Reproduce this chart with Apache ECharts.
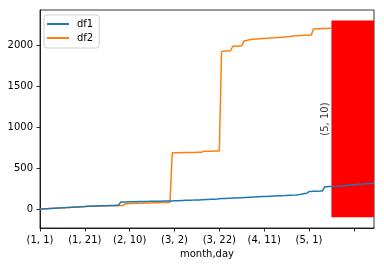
<!DOCTYPE html>
<html>
<head>
<meta charset="utf-8">
<script src="https://cdn.jsdelivr.net/npm/echarts@6/dist/echarts.min.js"></script>
<style>html,body{margin:0;padding:0;background:#fff;}#c{width:384px;height:266px;}</style>
</head>
<body>
<div id="c"></div>
<script>
// Categories: (month, day) from Jan 1 to May 30 (non-leap year)
const monthLengths = [31, 28, 31, 30, 30];
const categories = [];
for (let m = 0; m < monthLengths.length; m++) {
  for (let d = 1; d <= monthLengths[m]; d++) {
    if (categories.length < 150) categories.push('(' + (m + 1) + ', ' + d + ')');
  }
}
const tickLabels = ['(1, 1)', '(1, 21)', '(2, 10)', '(3, 2)', '(3, 22)', '(4, 11)', '(5, 1)', ''];
const yTicks = [0, 500, 1000, 1500, 2000];

const df1 = [
  0,1,3,4,6,7,9,10,12,13,15,16,18,19,21,22,24,25,27,28,30,32,
  33,34,35,36,37,38,38,39,40,41,42,43,44,45,
  84,
  85,86,86,87,88,88,89,90,90,91,92,92,93,93,94,94,95,95,96,97,97,98,98,
  99,100,101,103,104,105,106,107,108,109,110,111,113,114,115,116,118,119,120,121,124,
  127,128,129,130,131,133,134,135,137,138,139,141,142,144,145,146,148,150,
  151,152,153,155,156,157,158,160,161,162,163,165,166,167,169,171,174,
  178,183,188,192,
  212,
  214,215,216,217,218,220,
  270,
  272,273,274,275,276,278,279,281,283,285,287,292,298,300,302,303,305,306,308,310,312,314
];
const df2 = [
  0,1,2,4,5,7,8,10,11,13,14,16,17,19,20,22,23,25,26,28,29,31,32,33,34,35,35,36,37,37,38,38,39,39,40,40,41,41,
  64,
  65,66,67,68,69,70,70,71,72,73,74,74,75,76,77,78,78,79,80,81,
  685,
  686,686,687,687,688,688,689,689,690,690,691,691,692,
  703,704,704,705,705,706,706,707,
  1922,
  1925,1927,1928,1930,
  1985,1986,1987,1988,1990,
  2050,2055,2062,2068,2070,2072,2074,2076,2078,2080,2082,2084,2085,2087,2089,2091,2093,2095,2097,2099,2101,2106,2110,2112,2114,2116,2117,2118,2119,2120,2121,
  2195,2197,2198,2199,2200,2201,2202,2203,2204,
  null,null,null,null,null,null,null,null,null,null,null,null,null,null,null,null,null,null,null
];
const spanStart = '(5, 11)';
const spanEnd = '(5, 30)';
const spanLow = -100;
const spanHigh = 2300;
const annotText = '(5, 10)';
const annotX = '(5, 10)';
const annotY = 1097;

const font = 'DejaVu Sans';
const chart = echarts.init(document.getElementById('c'), null, {renderer: 'canvas'});
chart.setOption({
  animation: false,
  backgroundColor: '#fff',
  grid: {left: 40, right: 10, top: 10, bottom: 38, show: true, borderColor: '#000', borderWidth: 0.8, backgroundColor: 'transparent'},
  legend: {
    orient: 'vertical', left: 44, top: 15,
    padding: [4, 6, 5, 3], itemWidth: 22, itemHeight: 2, itemGap: 4,
    icon: 'rect',
    backgroundColor: '#fff', borderColor: '#d0d0d0', borderWidth: 1, borderRadius: 3,
    textStyle: {fontFamily: font, fontSize: 10, color: '#000', padding: [0, 0, 0, 3]},
    data: [{name: 'df1', icon: 'rect'}, {name: 'df2', icon: 'rect'}]
  },
  xAxis: {
    type: 'category', data: categories, boundaryGap: false,
    name: 'month,day', nameLocation: 'middle', nameGap: 20,
    nameTextStyle: {fontFamily: font, fontSize: 10, color: '#000'},
    axisLine: {onZero: false, lineStyle: {color: '#000', width: 0.8}},
    axisTick: {interval: 19, length: 3.5, lineStyle: {color: '#000', width: 0.8}},
    axisLabel: {interval: 19, margin: 7, fontFamily: font, fontSize: 10, color: '#000',
      formatter: function (v, i) { return i % 20 === 0 ? (tickLabels[i / 20] || '') : ''; }},
    splitLine: {show: false}
  },
  yAxis: {
    type: 'value', min: -232, max: 2427,
    axisLine: {show: true, onZero: false, lineStyle: {color: '#000', width: 0.8}},
    axisTick: {show: true, length: 3.5, customValues: yTicks, lineStyle: {color: '#000', width: 0.8}},
    axisLabel: {margin: 7, customValues: yTicks, fontFamily: font, fontSize: 10, color: '#000',
      formatter: function (v) { return String(v); }},
    splitLine: {show: false}
  },
  series: [
    {
      name: 'df1', type: 'line', data: df1, showSymbol: false, symbol: 'none',
      lineStyle: {color: '#1f77b4', width: 1.5}, itemStyle: {color: '#1f77b4'}, z: 3,
      markArea: {
        silent: true,
        itemStyle: {color: '#ff0000', opacity: 1},
        data: [[{xAxis: spanStart, yAxis: spanLow}, {xAxis: spanEnd, yAxis: spanHigh}]]
      }
    },
    {
      name: 'df2', type: 'line', data: df2, showSymbol: false, symbol: 'none',
      lineStyle: {color: '#ff7f0e', width: 1.5}, itemStyle: {color: '#ff7f0e'}, z: 2
    },
    {
      type: 'scatter', data: [[annotX, annotY]], symbolSize: 0, silent: true,
      label: {show: true, formatter: annotText, position: 'inside', rotate: 90, offset: [0, -4],
        fontFamily: font, fontSize: 10, color: '#000'}
    }
  ]
});
</script>
</body>
</html>
